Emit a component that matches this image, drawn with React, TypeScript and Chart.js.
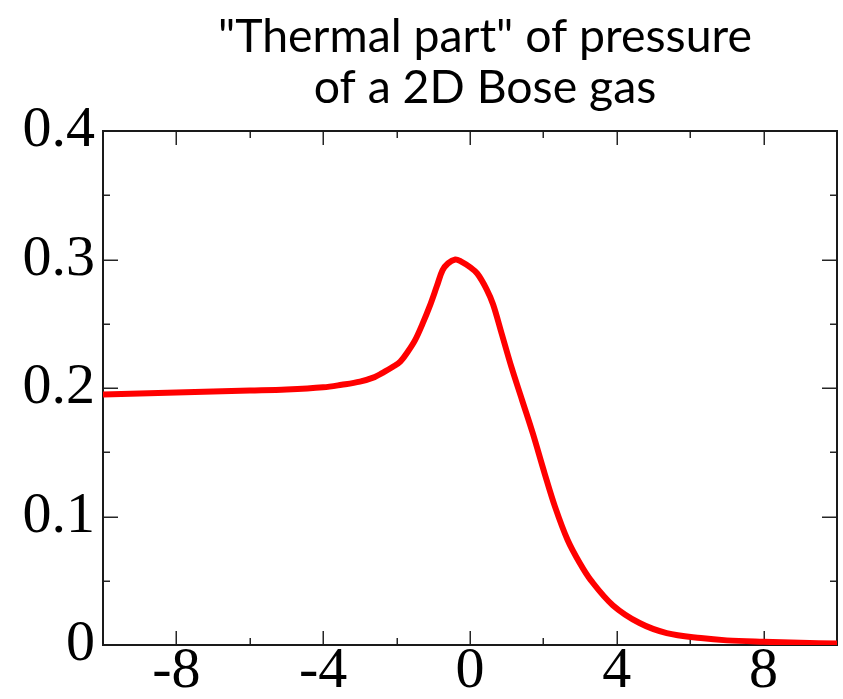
import { useEffect, useRef } from "react";
import { Chart, registerables } from "chart.js";

Chart.register(...registerables);

// Title, two lines
const titleLines = ['"Thermal part" of pressure', "of a 2D Bose gas"];

// Curve samples: chemical-potential-like variable vs. thermal pressure
const muValues = [
  -10, -8, -6, -5, -4, -3.5, -3, -2.6, -2.4, -2.1, -1.9, -1.7, -1.5, -1.3, -1.1,
  -0.9, -0.75, -0.6, -0.4, -0.25, 0, 0.2, 0.45, 0.63, 0.86, 1.13, 1.42, 1.71, 2.03,
  2.32, 2.66, 2.99, 3.29, 3.89, 4.62, 5.36, 6.29, 7, 8, 9, 10,
];
const pressureValues = [
  0.195, 0.1965, 0.198, 0.1988, 0.2005, 0.2025, 0.205, 0.2085, 0.2115, 0.2165,
  0.2205, 0.228, 0.237, 0.2495, 0.2635, 0.2795, 0.2915, 0.297, 0.3, 0.2985,
  0.294, 0.289, 0.277, 0.265, 0.2426, 0.2162, 0.1905, 0.1648, 0.1338, 0.1073,
  0.0817, 0.0638, 0.0505, 0.031, 0.0171, 0.0093, 0.0054, 0.0036, 0.0025, 0.0017,
  0.0012,
];

// Axis ranges and labelled ticks
const xRange = [-10, 10];
const yRange = [0, 0.4];
const xTickLabels = [-8, -4, 0, 4, 8];
const yTickLabels = [0, 0.1, 0.2, 0.3, 0.4];

const isLabelled = (list: number[], v: number) =>
  list.some((l) => Math.abs(l - v) < 1e-9);

// Boxed frame with inward major/minor ticks on all four sides
const framePlugin = {
  id: "frameTicks",
  beforeDatasetsDraw(chart: any) {
    const { ctx, chartArea: a, scales } = chart;
    const line = (x1: number, y1: number, x2: number, y2: number) => {
      ctx.beginPath();
      ctx.moveTo(x1, y1);
      ctx.lineTo(x2, y2);
      ctx.stroke();
    };
    ctx.save();
    ctx.strokeStyle = "#262626";
    ctx.lineWidth = 1.5;
    for (const t of scales.x.ticks) {
      const px = Math.round(scales.x.getPixelForValue(t.value)) + 0.25;
      const len = isLabelled(xTickLabels, t.value) ? 14 : 7;
      line(px, a.bottom, px, a.bottom - len);
      line(px, a.top, px, a.top + len);
    }
    for (const t of scales.y.ticks) {
      const py = Math.round(scales.y.getPixelForValue(t.value)) + 0.25;
      const len = isLabelled(yTickLabels, t.value) ? 15 : 7;
      line(a.left, py, a.left + len, py);
      line(a.right, py, a.right - len, py);
    }
    ctx.strokeStyle = "#1a1a1a";
    ctx.lineWidth = 2;
    ctx.strokeRect(a.left, a.top, a.right - a.left, a.bottom - a.top);
    ctx.restore();
  },
};

// Two-line title above the plot
const titlePlugin = {
  id: "twoLineTitle",
  afterDraw(chart: any) {
    const { ctx, chartArea: a } = chart;
    ctx.save();
    ctx.font = "42px Lato";
    const w = ctx.measureText(titleLines[0]).width;
    const size = (42 * 534) / w;
    ctx.font = `${size.toFixed(1)}px Lato`;
    ctx.fillStyle = "#000";
    ctx.textAlign = "center";
    ctx.textBaseline = "alphabetic";
    const cx = (a.left + a.right) / 2 + 15;
    ctx.fillText(titleLines[0], cx, 52);
    ctx.fillText(titleLines[1], cx, 103);
    ctx.restore();
  },
};

export default function App() {
  const canvasRef = useRef<HTMLCanvasElement | null>(null);

  useEffect(() => {
    document.body.style.margin = "0";
    const canvas = canvasRef.current;
    if (!canvas) return;
    const tickFont = { family: "'Liberation Serif', 'Times New Roman', serif", size: 58 };
    const chart = new Chart(canvas, {
      type: "line",
      data: {
        datasets: [
          {
            data: muValues.map((x, i) => ({ x, y: pressureValues[i] })),
            borderColor: "#ff0000",
            borderWidth: 6,
            pointRadius: 0,
            tension: 0.35,
            fill: false,
          },
        ],
      },
      options: {
        animation: false,
        responsive: true,
        maintainAspectRatio: false,
        layout: { padding: { left: 0, right: 6, top: 131, bottom: 0 } },
        plugins: {
          legend: { display: false },
          title: { display: false },
          tooltip: { enabled: false },
        },
        scales: {
          x: {
            type: "linear",
            min: xRange[0],
            max: xRange[1],
            grid: { display: false, drawTicks: false },
            border: { display: false },
            afterFit: (s: any) => {
              s.height = 54;
            },
            ticks: {
              stepSize: 2,
              autoSkip: false,
              maxRotation: 0,
              padding: -8,
              color: "#000",
              font: tickFont,
              callback: (v: any) => (isLabelled(xTickLabels, Number(v)) ? String(v) : ""),
            },
          },
          y: {
            type: "linear",
            min: yRange[0],
            max: yRange[1],
            grid: { display: false, drawTicks: false },
            border: { display: false },
            afterFit: (s: any) => {
              s.width = 103;
            },
            ticks: {
              stepSize: 0.05,
              autoSkip: false,
              padding: 8,
              color: "#000",
              font: tickFont,
              callback: (v: any) => {
                const n = Number(v);
                if (!isLabelled(yTickLabels, n)) return "";
                return Math.abs(n) < 1e-9 ? "0" : n.toFixed(1);
              },
            },
          },
        },
      },
      plugins: [framePlugin, titlePlugin],
    });
    return () => chart.destroy();
  }, []);

  return (
    <div style={{ width: 843, height: 699, position: "relative" }}>
      <canvas ref={canvasRef} />
    </div>
  );
}
